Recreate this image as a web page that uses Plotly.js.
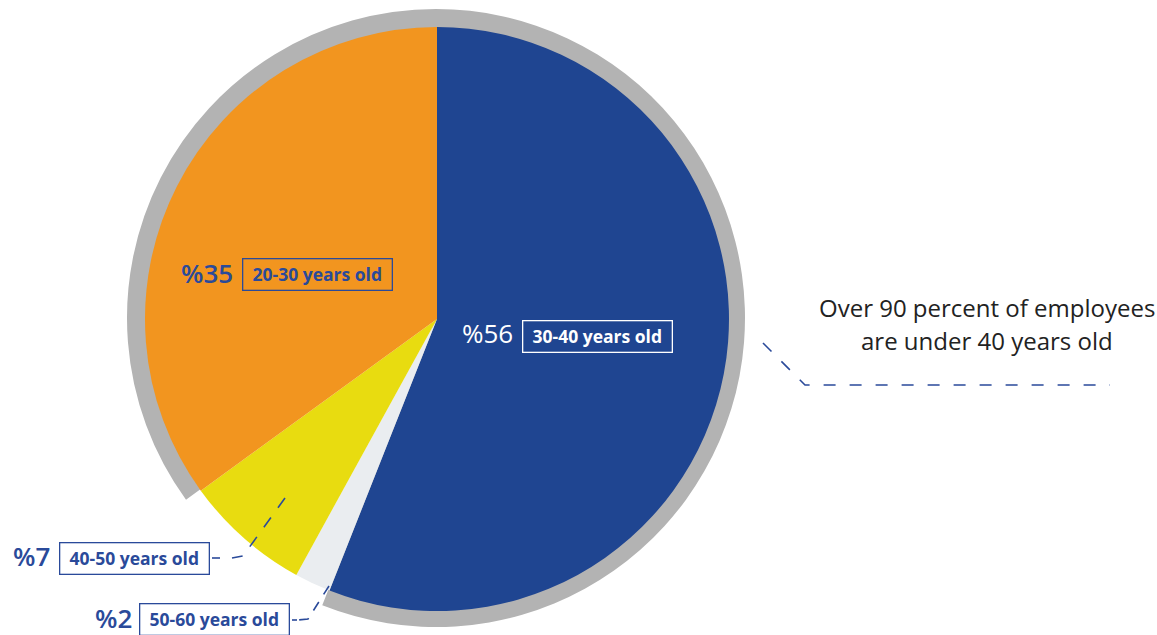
<!DOCTYPE html>
<html>
<head>
<meta charset="utf-8">
<script src="https://cdn.plot.ly/plotly-3.0.1.min.js"></script>
<style>html,body{margin:0;padding:0;background:#fff;}#chart{width:1157px;height:635px;}</style>
</head>
<body>
<div id="chart"></div>
<script>
// ---- data ----
const ageGroups = ["30-40 years old", "50-60 years old", "40-50 years old", "20-30 years old"];
const sharePercent = [56, 2, 7, 35];
const percentLabels = ["%56", "%2", "%7", "%35"];
const noteLines = ["Over 90 percent of employees", "are under 40 years old"];

// ---- styling ----
const W = 1157, H = 635;
const sliceColors = ["#1f4591", "#eaedf0", "#e8dc10", "#f2951f"];
const ringColors = ["#b3b3b3", "rgba(0,0,0,0)", "rgba(0,0,0,0)", "#b3b3b3"];
const navy = "#2a4a9a";
const FONT = "Open Sans, Noto Sans, sans-serif";

function px(x) { return x / W; }
function py(y) { return 1 - y / H; }
function domainFor(cx, cy, r) {
  return { x: [px(cx - r), px(cx + r)], y: [py(cy + r), py(cy - r)] };
}

const cx = 437, cy = 319;
const ring = {
  type: "pie", values: sharePercent, labels: ageGroups, sort: false,
  direction: "clockwise", rotation: 0, textinfo: "none", hoverinfo: "skip",
  marker: { colors: ringColors, line: { width: 0 } },
  domain: domainFor(436, 318, 309), showlegend: false
};
const pie = {
  type: "pie", values: sharePercent, labels: ageGroups, sort: false,
  direction: "clockwise", rotation: 0, textinfo: "none",
  marker: { colors: sliceColors, line: { width: 0 } },
  domain: domainFor(cx, cy, 292), showlegend: false
};

// label placements (pixel positions of label centers)
const pctPos = [[487, 333, "#ffffff", 400], [113, 618, navy, 600], [31, 556, navy, 600], [207, 273, navy, 600]];
const boxPos = [[597, 336, "#ffffff"], [215, 619, navy], [134, 558, navy], [317, 274, navy]];

const annotations = [];
for (let i = 0; i < ageGroups.length; i++) {
  const p = pctPos[i], b = boxPos[i];
  annotations.push({
    xref: "paper", yref: "paper", x: px(p[0]), y: py(p[1]),
    xanchor: "center", yanchor: "middle", showarrow: false,
    text: percentLabels[i],
    font: { family: FONT, size: 26, color: p[2], weight: p[3] }
  });
  annotations.push({
    xref: "paper", yref: "paper", x: px(b[0]), y: py(b[1]),
    xanchor: "center", yanchor: "middle", showarrow: false,
    text: ageGroups[i], width: 144, height: 26, borderpad: 2,
    bordercolor: b[2], borderwidth: 1.3,
    font: { family: FONT, size: 17.5, color: b[2], weight: 700 }
  });
}
noteLines.forEach((t, k) => {
  annotations.push({
    xref: "paper", yref: "paper", x: px(987), y: py(307 + 33 * k),
    xanchor: "center", yanchor: "middle", showarrow: false, text: t,
    font: { family: FONT, size: 24, color: "#222222" }
  });
});

function pathPx(points) {
  return points.map((p, i) => (i ? "L" : "M") + px(p[0]) + "," + py(p[1])).join(" ");
}
const dashLine = { color: navy, width: 1.6, dash: "12px,14px" };
const shapes = [
  { type: "path", xref: "paper", yref: "paper", path: pathPx([[763, 343], [805, 385], [1110, 385]]), line: dashLine },
  { type: "path", xref: "paper", yref: "paper", path: pathPx([[285, 498], [243, 556], [232, 558]]), line: { color: navy, width: 1.6, dash: "12px,12px" } },
  { type: "path", xref: "paper", yref: "paper", path: pathPx([[220, 558], [212, 558]]), line: { color: navy, width: 1.6 } },
  { type: "path", xref: "paper", yref: "paper", path: pathPx([[329, 586], [308, 619], [298, 620]]), line: { color: navy, width: 1.6, dash: "10px,9px" } },
  { type: "path", xref: "paper", yref: "paper", path: pathPx([[297, 620], [292, 620]]), line: { color: navy, width: 1.6 } }
];

const layout = {
  width: W, height: H, margin: { l: 0, r: 0, t: 0, b: 0 },
  paper_bgcolor: "#ffffff", plot_bgcolor: "#ffffff",
  showlegend: false, annotations: annotations, shapes: shapes
};
Plotly.newPlot("chart", [ring, pie], layout, { displayModeBar: false, staticPlot: true });
</script>
</body>
</html>
